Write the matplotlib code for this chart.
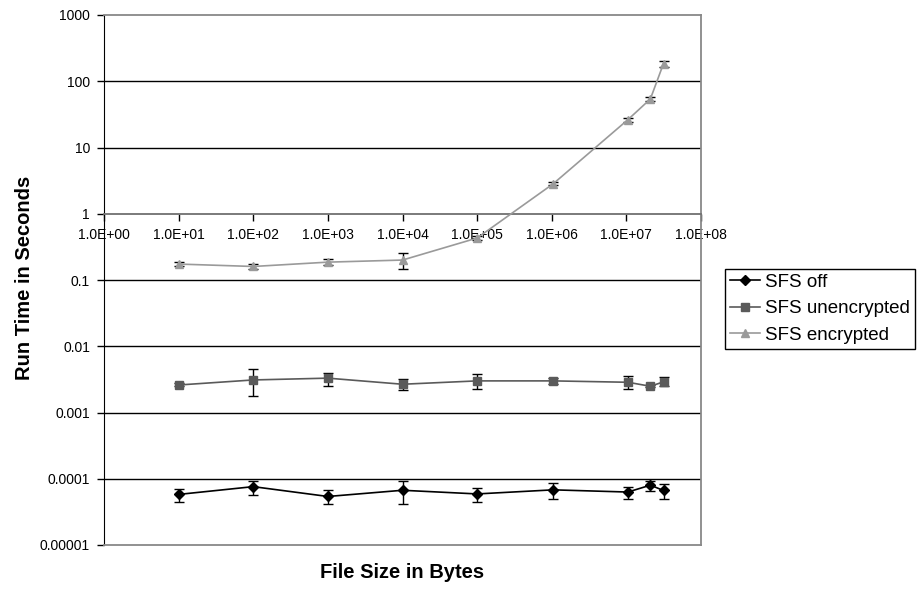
import numpy as np
import matplotlib.pyplot as plt
from matplotlib.ticker import FixedLocator, FixedFormatter, NullLocator

plt.rcParams['font.family'] = ['Liberation Sans', 'DejaVu Sans']

# file sizes in bytes
sizes = [10, 100, 1000, 10000, 100000, 1048576, 10485760, 20971520, 31457280]

# run times (s) with lower / upper error bar ends
off_mean = [5.8e-5, 7.6e-5, 5.4e-5, 6.7e-5, 5.9e-5, 6.8e-5, 6.3e-5, 8.0e-5, 6.65e-5]
off_lo = [4.5e-5, 5.6e-5, 4.1e-5, 4.2e-5, 4.5e-5, 5.0e-5, 4.9e-5, 6.6e-5, 5.0e-5]
off_hi = [7.0e-5, 9.2e-5, 6.7e-5, 9.2e-5, 7.2e-5, 8.5e-5, 7.5e-5, 9.1e-5, 8.4e-5]

unenc_mean = [0.0026, 0.0031, 0.0033, 0.00267, 0.0030, 0.0030, 0.00286, 0.00249, 0.0029]
unenc_lo = [0.0025, 0.00178, 0.00254, 0.00217, 0.00228, 0.0027, 0.0023, 0.0024, 0.0025]
unenc_hi = [0.0028, 0.0045, 0.0040, 0.00316, 0.00377, 0.0033, 0.0036, 0.0026, 0.0034]

enc_mean = [0.174, 0.160, 0.186, 0.200, 0.43, 2.84, 26.3, 54.0, 185.0]
enc_lo = [0.160, 0.146, 0.170, 0.146, 0.40, 2.70, 24.5, 51.0, 165.0]
enc_hi = [0.190, 0.176, 0.205, 0.260, 0.46, 3.00, 28.0, 57.0, 205.0]

y_ticks = [1e-5, 1e-4, 1e-3, 1e-2, 1e-1, 1, 10, 100, 1000]
y_labels = ['0.00001', '0.0001', '0.001', '0.01', '0.1', '1', '10', '100', '1000']
x_ticks = [10.0 ** k for k in range(0, 9)]
x_labels = ['1.0E+%02d' % k for k in range(0, 9)]

W, H = 918, 589
fig = plt.figure(figsize=(W / 100, H / 100), dpi=100)
ax = fig.add_axes([104 / W, 1 - 545 / H, (701 - 104) / W, (545 - 15) / H])
ax.set_xscale('log')
ax.set_yscale('log')
ax.set_xlim(1, 1e8)
ax.set_ylim(1e-5, 1e3)

# horizontal gridlines at each decade
for y in y_ticks[1:-1]:
    if y != 1:
        ax.axhline(y, color='black', lw=1, zorder=1)


def series(mean, lo, hi, color, marker, ms, label):
    mean = np.array(mean)
    err = [mean - np.array(lo), np.array(hi) - mean]
    ax.errorbar(sizes, mean, yerr=err, fmt='none', ecolor='black',
                elinewidth=1, capsize=3.5, capthick=1, zorder=3)
    ax.plot(sizes, mean, color=color, lw=1.2, marker=marker, ms=ms,
            markeredgecolor=color, markerfacecolor=color, zorder=4, label=label)


series(off_mean, off_lo, off_hi, 'black', 'D', 4.8, 'SFS off')
series(unenc_mean, unenc_lo, unenc_hi, '#5a5a5a', 's', 5.3, 'SFS unencrypted')
series(enc_mean, enc_lo, enc_hi, '#9a9a9a', '^', 6.3, 'SFS encrypted')

# x axis crosses at y = 1
ax.spines['bottom'].set_position(('data', 1))
ax.spines['bottom'].set_color('#707070')
ax.spines['bottom'].set_linewidth(1.3)
ax.spines['left'].set_color('black')
for s in ['top', 'right']:
    ax.spines[s].set_color('#888888')
    ax.spines[s].set_linewidth(1.3)
ax.axhline(1e-5, color='#888888', lw=1.3, clip_on=False, zorder=5)

ax.xaxis.set_major_locator(FixedLocator(x_ticks))
ax.xaxis.set_major_formatter(FixedFormatter(x_labels))
ax.xaxis.set_minor_locator(NullLocator())
ax.yaxis.set_major_locator(FixedLocator(y_ticks))
ax.yaxis.set_major_formatter(FixedFormatter(y_labels))
ax.yaxis.set_minor_locator(NullLocator())
ax.tick_params(axis='x', direction='out', length=5, width=1, color='black',
               labelsize=10, pad=5)
ax.tick_params(axis='y', direction='out', length=5, width=1, color='black',
               labelsize=10, pad=5)

fig.text(402 / W, 1 - 573 / H, 'File Size in Bytes', fontsize=14.5,
         fontweight='bold', ha='center', va='center')
fig.text(25 / W, 1 - 278 / H, 'Run Time in Seconds', fontsize=14.5,
         fontweight='bold', ha='center', va='center', rotation=90)

leg = fig.legend(loc='upper left', bbox_to_anchor=(725 / W, 1 - 269 / H),
                 fontsize=13.5, frameon=True, fancybox=False, edgecolor='black',
                 framealpha=1, borderaxespad=0, handlelength=1.6,
                 handletextpad=0.3, labelspacing=0.5, borderpad=0.25)
leg.get_frame().set_linewidth(1)

fig.savefig('out.png', dpi=100)
